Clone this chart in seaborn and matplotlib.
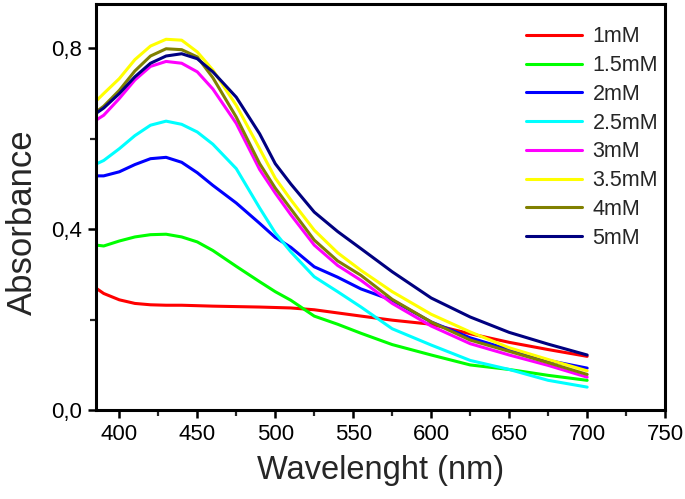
import numpy as np
import pandas as pd
import matplotlib
matplotlib.use("Agg")
import matplotlib.pyplot as plt
import seaborn as sns

# ---- data ----
wavelength = [385, 390, 400, 410, 420, 430, 440, 450, 460, 475, 490, 500, 510,
              525, 540, 555, 575, 600, 625, 650, 675, 700]

labels = ["1mM", "1.5mM", "2mM", "2.5mM", "3mM", "3.5mM", "4mM", "5mM"]

abs_1mM = [0.270, 0.258, 0.244, 0.236, 0.233, 0.232, 0.232, 0.231, 0.230, 0.229, 0.228,
           0.227, 0.226, 0.222, 0.215, 0.208, 0.199, 0.190, 0.169, 0.150, 0.134, 0.119]
abs_1_5mM = [0.365, 0.363, 0.374, 0.383, 0.388, 0.389, 0.383, 0.372, 0.353, 0.318, 0.284,
             0.262, 0.243, 0.208, 0.190, 0.170, 0.145, 0.122, 0.100, 0.090, 0.077, 0.066]
abs_2mM = [0.518, 0.518, 0.527, 0.543, 0.556, 0.559, 0.548, 0.525, 0.497, 0.458, 0.413,
           0.382, 0.360, 0.317, 0.294, 0.268, 0.243, 0.195, 0.160, 0.134, 0.110, 0.093]
abs_2_5mM = [0.544, 0.552, 0.578, 0.607, 0.630, 0.639, 0.632, 0.615, 0.588, 0.534, 0.447,
             0.392, 0.350, 0.295, 0.262, 0.228, 0.180, 0.144, 0.110, 0.090, 0.066, 0.051]
abs_3mM = [0.641, 0.652, 0.689, 0.730, 0.760, 0.771, 0.767, 0.748, 0.710, 0.634, 0.532,
           0.480, 0.432, 0.365, 0.320, 0.287, 0.236, 0.186, 0.147, 0.122, 0.099, 0.073]
abs_3_5mM = [0.683, 0.700, 0.733, 0.775, 0.805, 0.820, 0.818, 0.792, 0.752, 0.674, 0.578,
             0.513, 0.465, 0.398, 0.348, 0.309, 0.262, 0.212, 0.173, 0.138, 0.112, 0.087]
abs_4mM = [0.659, 0.672, 0.707, 0.750, 0.783, 0.799, 0.797, 0.781, 0.735, 0.648, 0.545,
           0.491, 0.445, 0.376, 0.330, 0.298, 0.245, 0.195, 0.155, 0.130, 0.105, 0.079]
abs_5mM = [0.656, 0.668, 0.700, 0.737, 0.767, 0.783, 0.788, 0.777, 0.748, 0.692, 0.611,
           0.545, 0.500, 0.438, 0.395, 0.357, 0.306, 0.248, 0.206, 0.172, 0.146, 0.122]

series = [abs_1mM, abs_1_5mM, abs_2mM, abs_2_5mM, abs_3mM, abs_3_5mM, abs_4mM, abs_5mM]
colors = ["#FF0000", "#00FF00", "#0000FF", "#00FFFF", "#FF00FF", "#FFFF00", "#808000", "#000080"]

xticks = [400, 450, 500, 550, 600, 650, 700, 750]
yticks = [0.0, 0.4, 0.8]
ytick_labels = ["0,0", "0,4", "0,8"]

df = pd.DataFrame({
    "Wavelength": np.tile(wavelength, len(labels)),
    "Absorbance": np.concatenate(series),
    "Conc": np.repeat(labels, len(wavelength)),
})

# ---- style ----
sns.set_style("ticks")
plt.rcParams["font.family"] = ["Liberation Sans", "DejaVu Sans"]

fig = plt.figure(figsize=(6.85, 4.99), dpi=100)
ax = fig.add_axes([0.140, 0.178, 0.831, 0.814])

sns.lineplot(data=df, x="Wavelength", y="Absorbance", hue="Conc",
             hue_order=labels, palette=dict(zip(labels, colors)),
             linewidth=2.2, ax=ax, sort=False, estimator=None)

ax.set_xlim(385, 750)
ax.set_ylim(0, 0.898)

ax.set_xticks(xticks)
ax.set_xticklabels([str(t) for t in xticks])
ax.set_xticks([425, 475, 525, 575, 625, 675, 725], minor=True)
ax.set_yticks(yticks)
ax.set_yticklabels(ytick_labels)
ax.set_yticks([0.2, 0.6], minor=True)

ax.tick_params(axis="both", which="major", direction="out", length=6, width=1.8,
               labelsize=16, pad=4, colors="black")
ax.tick_params(axis="both", which="minor", direction="out", length=4, width=1.6)

for s in ax.spines.values():
    s.set_linewidth(2.2)
    s.set_color("black")
    s.set_visible(True)

ax.set_xlabel("Wavelenght (nm)", fontsize=23.5, labelpad=7)
ax.set_ylabel("Absorbance", fontsize=25)
ax.yaxis.set_label_coords(-0.100, 0.463)

leg = ax.legend(loc="upper left", bbox_to_anchor=(0.755, 0.945), frameon=False,
                fontsize=15.5, handlelength=2.6, handletextpad=0.5,
                labelspacing=0.36, borderpad=0, borderaxespad=0)
for h in leg.get_lines():
    h.set_linewidth(2.2)

fig.savefig("out.png", dpi=100)
